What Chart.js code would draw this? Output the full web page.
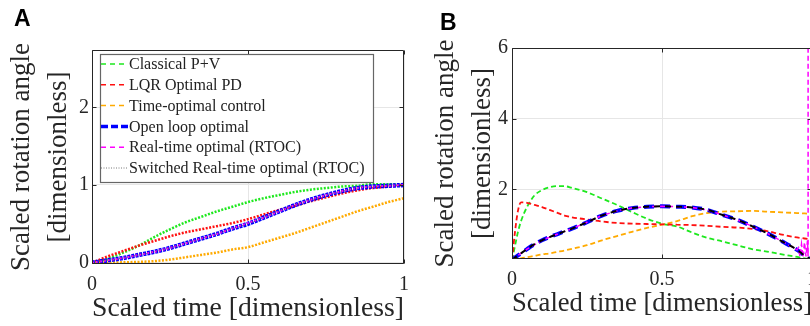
<!DOCTYPE html>
<html><head><meta charset="utf-8">
<script src="https://cdn.jsdelivr.net/npm/chart.js@4.4.1/dist/chart.umd.min.js"></script>
<style>
html,body{margin:0;padding:0;background:#fff;width:810px;height:326px;overflow:hidden;position:relative;}
#wrapA{position:absolute;left:0;top:0;width:410px;height:326px;}
#wrapB{position:absolute;left:410px;top:0;width:420px;height:326px;}
.lab{position:absolute;font-family:"Liberation Sans",Arial,sans-serif;font-weight:bold;font-size:23px;line-height:1;color:#000;}
</style></head><body>
<div id="wrapA"><canvas id="cA" width="410" height="326"></canvas></div>
<div id="wrapB"><canvas id="cB" width="420" height="326"></canvas></div>
<div class="lab" style="left:14px;top:7px">A</div>
<div class="lab" style="left:440px;top:11px">B</div>
<script>
// ---- data ----
const seriesNames = ['Classical P+V','LQR Optimal PD','Time-optimal control','Open loop optimal','Real-time optimal (RTOC)','Switched Real-time optimal (RTOC)'];
const xTicks = [0, 0.5, 1];
const xTickLabels = ['0', '0.5', '1'];
const yTicksA = [0, 1, 2];
const yTicksB = [2, 4, 6];
const xTitle = 'Scaled time [dimensionless]';
const yTitle = ['Scaled rotation angle', '[dimensionless]'];

// Panel A: scaled rotation angle
const timeA = [0,0.05,0.1,0.15,0.2,0.25,0.3,0.35,0.4,0.45,0.5,0.55,0.6,0.65,0.7,0.75,0.8,0.85,0.9,0.95,1.0];
const classicalA = [0,0.05,0.13,0.22,0.33,0.43,0.52,0.59,0.66,0.72,0.78,0.83,0.87,0.91,0.94,0.96,0.98,0.99,1.01,1.01,1.0];
const lqrA       = [0,0.08,0.15,0.22,0.28,0.34,0.39,0.43,0.47,0.51,0.56,0.62,0.68,0.73,0.79,0.84,0.89,0.93,0.96,0.98,1.0];
const timeOptA   = [0,0,0.005,0.01,0.02,0.04,0.07,0.10,0.13,0.17,0.20,0.26,0.32,0.38,0.45,0.52,0.59,0.66,0.72,0.78,0.83];
const openLoopA  = [0,0.03,0.06,0.10,0.14,0.19,0.25,0.31,0.37,0.44,0.50,0.58,0.66,0.74,0.81,0.87,0.92,0.96,0.98,0.99,1.0];
const rtocA      = [0,0.03,0.06,0.10,0.14,0.19,0.25,0.31,0.37,0.44,0.51,0.58,0.66,0.74,0.81,0.87,0.92,0.96,0.98,0.99,1.0];
const switchedA  = [0,0.03,0.06,0.10,0.14,0.19,0.25,0.31,0.37,0.44,0.50,0.58,0.66,0.74,0.81,0.87,0.92,0.96,0.98,0.99,1.0];

// Panel B
const timeB = [0,0.01,0.02,0.03,0.05,0.075,0.1,0.125,0.15,0.175,0.2,0.25,0.3,0.35,0.4,0.45,0.5,0.55,0.6,0.65,0.7,0.75,0.8,0.85,0.9,0.95,0.975,1.0];
const classicalB = [0,0.4,0.8,1.1,1.5,1.83,1.98,2.06,2.09,2.09,2.04,1.92,1.74,1.56,1.36,1.17,1.03,0.95,0.78,0.63,0.53,0.42,0.31,0.24,0.16,0.09,0.05,0.02];
const lqrB       = [0,0.8,1.4,1.63,1.62,1.56,1.5,1.42,1.34,1.26,1.21,1.15,1.09,1.05,1.03,1.02,1.01,1.0,0.99,0.97,0.94,0.92,0.88,0.82,0.72,0.64,0.61,0.58];
const timeOptB   = [0,0.01,0.03,0.05,0.08,0.12,0.16,0.19,0.23,0.27,0.32,0.42,0.56,0.68,0.8,0.91,1.0,1.1,1.24,1.33,1.37,1.38,1.39,1.37,1.35,1.33,1.32,1.31];
const openLoopB  = [0,0.07,0.13,0.19,0.31,0.45,0.56,0.65,0.73,0.81,0.89,1.07,1.26,1.39,1.47,1.51,1.52,1.51,1.49,1.42,1.28,1.14,0.96,0.76,0.53,0.29,0.13,0.0];
const switchedB  = [0,0.07,0.13,0.19,0.31,0.45,0.56,0.65,0.73,0.81,0.89,1.07,1.26,1.39,1.47,1.51,1.52,1.51,1.49,1.42,1.28,1.14,0.96,0.76,0.53,0.29,0.13,0.0];
const timeRtocB  = [0,0.02,0.05,0.1,0.15,0.2,0.25,0.3,0.35,0.4,0.45,0.5,0.55,0.6,0.65,0.7,0.75,0.8,0.85,0.9,0.95,0.955,0.96,0.965,0.97,0.975,0.98,0.985,0.987,0.987];
const rtocB      = [0,0.13,0.31,0.56,0.73,0.89,1.07,1.26,1.39,1.47,1.51,1.52,1.51,1.49,1.42,1.28,1.14,0.96,0.76,0.53,0.29,0.35,0.1,0.45,0.08,0.5,0.1,0.55,0.1,7];

// ---- helpers ----
const pts = (xs, ys) => xs.map((x, i) => ({x: x, y: ys[i]}));
const colors = ['#1ee81e', '#ff1010', '#ffaa00', '#0000ff', '#ff00ff', '#1a1a1a'];

const framePlugin = {
  id: 'frameLegend',
  afterDatasetsDraw(chart, args, o) {
    const ctx = chart.ctx;
    const a = chart.chartArea;
    ctx.save();
    ctx.strokeStyle = '#262626'; ctx.lineWidth = 1; ctx.setLineDash([]);
    const L = Math.round(a.left) + 0.5, R = Math.round(a.right) - 0.5, T = Math.round(a.top) + 0.5, B = Math.round(a.bottom) - 0.5;
    ctx.beginPath();
    ctx.moveTo(L, T); ctx.lineTo(R, T); ctx.lineTo(R, B); ctx.lineTo(L, B); ctx.closePath();
    const tk = 4;
    chart.scales.x.ticks.forEach(t => {
      const px = Math.round(chart.scales.x.getPixelForValue(t.value)) + 0.5;
      ctx.moveTo(px, B); ctx.lineTo(px, B - tk);
      ctx.moveTo(px, T); ctx.lineTo(px, T + tk);
    });
    chart.scales.y.ticks.forEach(t => {
      const py = Math.round(chart.scales.y.getPixelForValue(t.value)) + 0.5;
      ctx.moveTo(L, py); ctx.lineTo(L + tk, py);
      ctx.moveTo(R, py); ctx.lineTo(R - tk, py);
    });
    ctx.stroke();
    // legend
    ctx.fillStyle = '#fff';
    ctx.fillRect(o.x, o.y, o.w, o.h);
    ctx.strokeStyle = '#666'; ctx.lineWidth = 1.2;
    ctx.strokeRect(o.x + 0.5, o.y + 0.5, o.w, o.h);
    ctx.font = o.font;
    ctx.textBaseline = 'middle';
    chart.data.datasets.forEach((ds, i) => {
      const cy = o.firstY + i * o.rowH;
      ctx.beginPath();
      ctx.setLineDash(ds.legendDash || ds.borderDash || []);
      ctx.lineWidth = ds.legendWidth || ds.borderWidth;
      ctx.strokeStyle = ds.borderColor;
      ctx.moveTo(o.s0, cy); ctx.lineTo(o.s1, cy); ctx.stroke();
      ctx.setLineDash([]);
      ctx.fillStyle = '#222';
      ctx.fillText(ds.label, o.tx, cy + 1);
    });
    ctx.restore();
  }
};

function makeChart(id, cfg) {
  const tickFont = {family: '"Liberation Serif", serif', size: 20, lineHeight: 1.2};
  return new Chart(document.getElementById(id), {
    type: 'line',
    data: {datasets: cfg.datasets},
    options: {
      responsive: false, animation: false, devicePixelRatio: 1,
      layout: {padding: cfg.padding},
      plugins: {legend: {display: false}, tooltip: {enabled: false}, frameLegend: cfg.legend},
      elements: {point: {radius: 0}, line: {cubicInterpolationMode: 'monotone'}},
      scales: {
        x: {
          type: 'linear', min: 0, max: 1,
          afterBuildTicks: s => { s.ticks = xTicks.map(v => ({value: v})); },
          afterFit: s => { s.height = cfg.xHeight; s.paddingLeft = 0; s.paddingRight = 0; },
          grid: {color: '#e6e6e6', drawTicks: false},
          border: {display: false},
          ticks: {font: tickFont, color: '#262626', padding: cfg.xTickPad, maxRotation: 0,
                  callback: (v, i) => xTickLabels[xTicks.indexOf(v)]},
          title: {display: true, text: xTitle, color: '#262626',
                  font: {family: '"Liberation Serif", serif', size: 28, lineHeight: 1.2},
                  padding: {top: 0, bottom: cfg.xTitlePad}}
        },
        y: {
          type: 'linear', min: cfg.yMin, max: cfg.yMax,
          afterBuildTicks: s => { s.ticks = cfg.yTicks.map(v => ({value: v})); },
          afterFit: s => { s.width = cfg.yWidth; s.paddingTop = 0; s.paddingBottom = 0; },
          grid: {color: '#e6e6e6', drawTicks: false},
          border: {display: false},
          ticks: {font: tickFont, color: '#262626', padding: cfg.yTickPad},
          title: {display: true, text: yTitle, color: '#262626',
                  font: {family: '"Liberation Serif", serif', size: 27, lineHeight: 1.37},
                  padding: {top: cfg.yTitlePad, bottom: 0}}
        }
      }
    },
    plugins: [framePlugin]
  });
}

makeChart('cA', {
  padding: {left: 0, top: 50, right: 6, bottom: 0},
  xHeight: 62, yWidth: 92, yMin: -0.017, yMax: 2.737, yTicks: yTicksA,
  xTickPad: 9, yTickPad: 3, xTitlePad: 1, yTitlePad: 3,
  legend: {x: 100, y: 54, w: 273, h: 128, rowH: 20.8, firstY: 64, s0: 101, s1: 128, tx: 129,
           font: '16px "Liberation Serif", serif'},
  datasets: [
    {label: seriesNames[0], data: pts(timeA, classicalA), borderColor: colors[0], borderWidth: 2.5, borderDash: [2, 1.5], legendDash: [5, 4], legendWidth: 1.5, order: 5},
    {label: seriesNames[1], data: pts(timeA, lqrA), borderColor: colors[1], borderWidth: 2.5, borderDash: [2, 1.5], legendDash: [5, 4], legendWidth: 1.5, order: 3},
    {label: seriesNames[2], data: pts(timeA, timeOptA), borderColor: colors[2], borderWidth: 2.5, borderDash: [2, 1.5], legendDash: [5, 4], legendWidth: 1.5, order: 4},
    {label: seriesNames[3], data: pts(timeA, openLoopA), borderColor: colors[3], borderWidth: 4.5, borderDash: [3, 1], legendDash: [7, 3], legendWidth: 3.5, order: 2},
    {label: seriesNames[4], data: pts(timeA, rtocA), borderColor: colors[4], borderWidth: 2, borderDash: [2, 2], legendDash: [5, 4], legendWidth: 1.5, order: 1},
    {label: seriesNames[5], data: pts(timeA, switchedA), borderColor: '#555', borderWidth: 0.8, borderDash: [1, 1.5], legendDash: [1, 1.5], legendWidth: 0.8, order: 0}
  ]
});

makeChart('cB', {
  padding: {left: 0, top: 48, right: 18, bottom: 0},
  xHeight: 67, yWidth: 102, yMin: 0.03, yMax: 6, yTicks: yTicksB,
  xTickPad: 9, yTickPad: 4, xTitlePad: 6, yTitlePad: 17,
  legend: {x: 516, y: 48, w: 286, h: 137, rowH: 22.2, firstY: 59.5, s0: 518, s1: 543, tx: 545,
           font: '17px "Liberation Serif", serif'},
  datasets: [
    {label: seriesNames[0], data: pts(timeB, classicalB), borderColor: colors[0], borderWidth: 1.8, borderDash: [5, 3], order: 5},
    {label: seriesNames[1], data: pts(timeB, lqrB), borderColor: colors[1], borderWidth: 1.8, borderDash: [5, 3], order: 3},
    {label: seriesNames[2], data: pts(timeB, timeOptB), borderColor: colors[2], borderWidth: 1.8, borderDash: [5, 3], order: 4},
    {label: seriesNames[3], data: pts(timeB, openLoopB), borderColor: colors[3], borderWidth: 4, borderDash: [10, 6], legendDash: [12, 11], order: 2},
    {label: seriesNames[4], data: pts(timeRtocB, rtocB), borderColor: colors[4], borderWidth: 1.5, borderDash: [5, 3], cubicInterpolationMode: 'default', tension: 0, order: 1},
    {label: seriesNames[5], data: pts(timeB, switchedB), borderColor: '#000', borderWidth: 2, borderDash: [6, 5], order: 0}
  ]
});
</script>
</body></html>
